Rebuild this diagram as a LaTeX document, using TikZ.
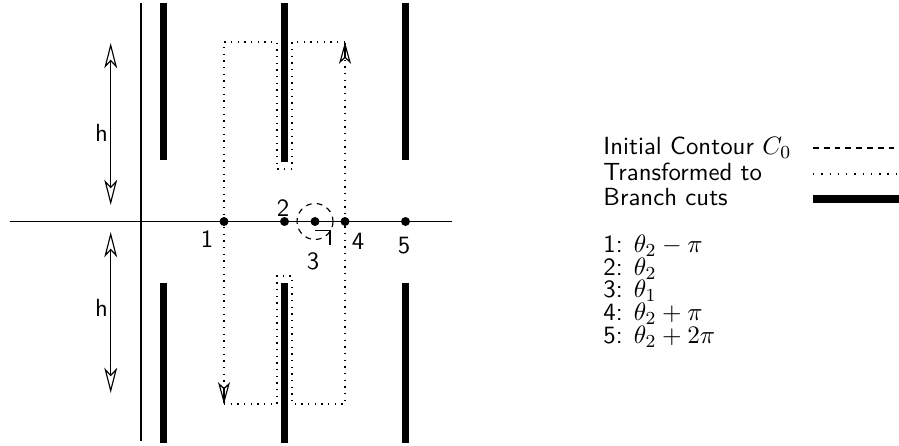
\documentclass[tikz,border=0pt]{standalone}
\usetikzlibrary{arrows.meta}
\begin{document}
\begin{tikzpicture}[x=0.435pt,y=-0.435pt,font=\fontsize{10.8}{12}\sffamily,
  axis/.style={line width=0.5pt},
  cut/.style={line width=3.1pt,line cap=butt},
  contour/.style={line width=0.55pt,dash pattern=on 0.6pt off 2.3pt},
  legdot/.style={line width=0.55pt,dash pattern=on 0.6pt off 3pt},
  initc/.style={line width=0.5pt,dash pattern=on 2.5pt off 2.2pt},
  harrow/.style={line width=0.5pt,{Stealth[open,length=11pt,width=5.6pt,inset=3pt]}-{Stealth[open,length=11pt,width=5.6pt,inset=3pt]}},
  carrow/.style={line width=0.5pt,-{Stealth[open,length=9.5pt,width=5.2pt,inset=2.5pt]}},
  dot/.style={circle,fill=black,inner sep=0pt,minimum size=3.9pt},
  lbl/.style={inner sep=0pt},
  leg/.style={inner sep=0pt,anchor=base west}]
\useasboundingbox (0,0) rectangle (899,446);
% axes
\coordinate (xl) at (10,221.5);
\coordinate (xr) at (452,221.5);
\coordinate (yt) at (141,3);
\coordinate (yb) at (141,441);
\draw[axis] (xl) -- (xr);
\draw[axis] (yt) -- (yb);
% branch cuts
\coordinate (c1t) at (163.5,3);   \coordinate (c1b) at (163.5,160);
\coordinate (c2t) at (284.5,3);   \coordinate (c2b) at (284.5,162);
\coordinate (c3t) at (405.5,3);   \coordinate (c3b) at (405.5,160);
\coordinate (d1t) at (163.5,283); \coordinate (d1b) at (163.5,443);
\coordinate (d2t) at (284.5,283); \coordinate (d2b) at (284.5,443);
\coordinate (d3t) at (405.5,283); \coordinate (d3b) at (405.5,443);
\draw[cut] (c1t) -- (c1b);
\draw[cut] (c2t) -- (c2b);
\draw[cut] (c3t) -- (c3b);
\draw[cut] (d1t) -- (d1b);
\draw[cut] (d2t) -- (d2b);
\draw[cut] (d3t) -- (d3b);
% h arrows
\coordinate (h1a) at (110.7,43);  \coordinate (h1b) at (110.7,205);
\coordinate (h2a) at (110.7,232); \coordinate (h2b) at (110.7,393);
\draw[harrow] (h1a) -- (h1b);
\draw[harrow] (h2a) -- (h2b);
\node[lbl] (hl1) at (101.5,132.5) {h};
\node[lbl] (hl2) at (101.5,307.5) {h};
% transformed contour
\coordinate (A) at (224,42);
\coordinate (B) at (277,42);
\coordinate (C) at (277,169);
\coordinate (D) at (292,169);
\coordinate (E) at (292,42);
\coordinate (F) at (345,42);
\coordinate (G) at (345,404);
\coordinate (H) at (292,404);
\coordinate (I) at (292,276);
\coordinate (J) at (277,276);
\coordinate (K) at (277,404);
\coordinate (L) at (224,404);
\coordinate (Fs) at (345,43);
\coordinate (Ls) at (224,403);
\draw[contour] (F) -- (E) -- (D) -- (C) -- (B) -- (A) -- (L);
\draw[contour] (L) -- (K) -- (J) -- (I) -- (H) -- (G) -- (F);
\draw[carrow] (Fs) -- (F);
\draw[carrow] (Ls) -- (L);
% points
\node[dot] (p1) at (224,221.5) {};
\node[dot] (p2) at (284.5,221.5) {};
\node[dot] (p3) at (315,221.5) {};
\node[dot] (p4) at (345,221.5) {};
\node[dot] (p5) at (405.5,221.5) {};
\node[lbl] (l1) at (207,239) {1};
\node[lbl] (l2) at (283,208) {2};
\node[lbl] (l3) at (313,261) {3};
\node[lbl] (l4) at (358,241) {4};
\node[lbl] (l5) at (404,246) {5};
% initial contour
\draw[initc] (p3) circle[radius=18];
\coordinate (m1) at (315,230.5);
\coordinate (m2) at (330,230.5);
\coordinate (m3) at (330,245);
\draw[line width=0.5pt] (m1) -- (m2) -- (m3);
% legend
\node[leg] (t1) at (603,155) {Initial Contour $C_0$};
\node[leg] (t2) at (603,181) {Transformed to};
\node[leg] (t3) at (603,206) {Branch cuts};
\coordinate (s1a) at (813,148); \coordinate (s1b) at (899,148);
\coordinate (s2a) at (813,174); \coordinate (s2b) at (899,174);
\coordinate (s3a) at (813,199); \coordinate (s3b) at (899,199);
\draw[initc] (s1a) -- (s1b);
\draw[legdot] (s2a) -- (s2b);
\draw[cut] (s3a) -- (s3b);
\node[leg] (k1) at (603,253) {1: $\theta_2-\pi$};
\node[leg] (k2) at (603,275.5) {2: $\theta_2$};
\node[leg] (k3) at (603,298) {3: $\theta_1$};
\node[leg] (k4) at (603,320.5) {4: $\theta_2+\pi$};
\node[leg] (k5) at (603,344) {5: $\theta_2+2\pi$};
\end{tikzpicture}
\end{document}
